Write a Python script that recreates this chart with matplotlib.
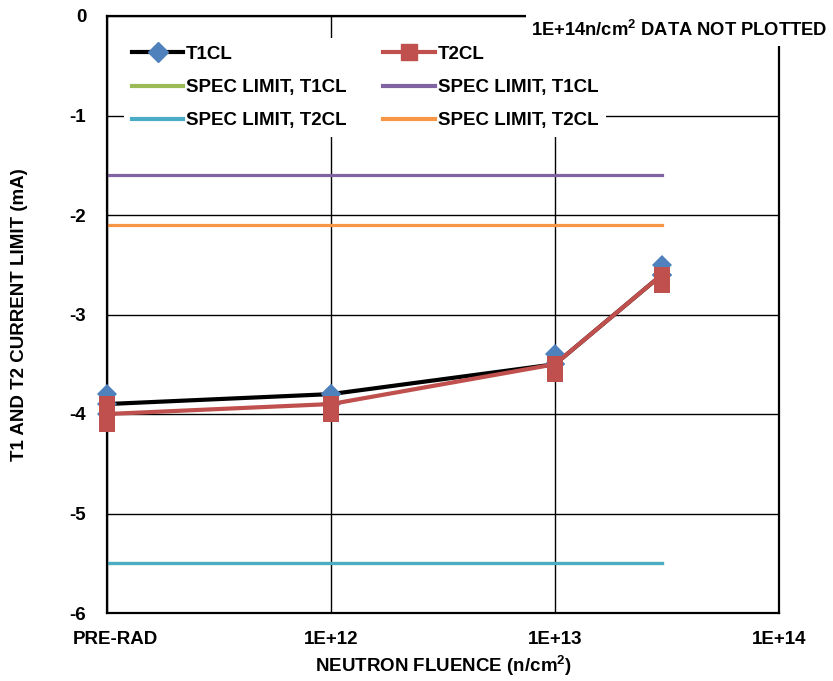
import numpy as np
import matplotlib
matplotlib.use("Agg")
import matplotlib.pyplot as plt
import matplotlib.transforms as mtransforms
from matplotlib.lines import Line2D

plt.rcParams['font.family'] = ['Liberation Sans', 'DejaVu Sans']
plt.rcParams['font.weight'] = 'bold'
plt.rcParams['axes.labelweight'] = 'bold'
plt.rcParams['mathtext.fontset'] = 'custom'
plt.rcParams['mathtext.rm'] = 'Liberation Sans:bold'
plt.rcParams['mathtext.default'] = 'rm'

# fluence, PRE-RAD drawn at 1E+11
fluence = [1e11, 1e12, 1e13, 3e13]
tick_pos = [1e11, 1e12, 1e13, 1e14]
tick_labels = ['PRE-RAD', '1E+12', '1E+13', '1E+14']

# three units per fluence step, middle one carries the line
t1_unit_a = [-3.8, -3.8, -3.4, -2.5]
t1_unit_b = [-3.9, -3.8, -3.5, -2.6]
t1_unit_c = [-4.0, -3.9, -3.5, -2.6]
t2_unit_a = [-3.9, -3.9, -3.5, -2.6]
t2_unit_b = [-4.0, -3.9, -3.5, -2.6]
t2_unit_c = [-4.1, -4.0, -3.6, -2.7]

# spec limits
spec_x = [1e11, 3e13]
spec_t1_low = -5.5
spec_t1_high = -1.6
spec_t2_low = -5.5
spec_t2_high = -2.1

c_blue = '#4F81BD'
c_red = '#C0504D'
c_green = '#9BBB59'
c_purple = '#8064A2'
c_teal = '#4BACC6'
c_orange = '#F79646'

fs = 13.5

fig = plt.figure(figsize=(8.33, 6.81), dpi=100)
ax = fig.add_axes([107/833, 1 - 613/681, (779-107)/833, (613-16)/681])

ax.plot(spec_x, [spec_t1_low]*2, color=c_green, lw=2.3, zorder=2)
ax.plot(spec_x, [spec_t1_high]*2, color=c_purple, lw=2.3, zorder=2)
ax.plot(spec_x, [spec_t2_low]*2, color=c_teal, lw=2.3, zorder=2)
ax.plot(spec_x, [spec_t2_high]*2, color=c_orange, lw=2.3, zorder=2)

ax.plot(fluence, t1_unit_b, color='black', lw=3, zorder=3, clip_on=False)
for vals in (t1_unit_a, t1_unit_b, t1_unit_c):
    ax.plot(fluence, vals, ls='none', marker='D', ms=10.5, color=c_blue,
            markeredgewidth=0, zorder=4, clip_on=False)
ax.plot(fluence, t2_unit_b, color=c_red, lw=3, zorder=5, clip_on=False)
for vals in (t2_unit_a, t2_unit_b, t2_unit_c):
    ax.plot(fluence, vals, ls='none', marker='s', ms=12, color=c_red,
            markeredgewidth=0, zorder=6, clip_on=False)

ax.set_xscale('log')
ax.set_xlim(1e11, 1e14)
ax.set_ylim(-6, 0)
ax.set_xticks(tick_pos)
ax.set_xticklabels(tick_labels)
ax.minorticks_off()
ax.set_yticks(np.arange(-6, 1, 1))
ax.set_yticklabels([str(v) for v in range(-6, 1)])
ax.tick_params(axis='both', length=0, labelsize=fs)
ax.tick_params(axis='x', pad=13)
ax.tick_params(axis='y', pad=15)
ax.grid(True, color='black', lw=1)
ax.set_axisbelow(True)
for s in ax.spines.values():
    s.set_linewidth(1.6)

# PRE-RAD sits a little right of the axis corner
first = ax.get_xticklabels()[0]
first.set_transform(first.get_transform() +
                    mtransforms.ScaledTranslation(8/100, 0, fig.dpi_scale_trans))

ax.set_xlabel('NEUTRON FLUENCE (n/cm$^2$)', fontsize=fs, labelpad=4)
ax.set_ylabel('T1 AND T2 CURRENT LIMIT (mA)', fontsize=fs, labelpad=30)

handles = [
    Line2D([], [], color='black', lw=3, marker='D', ms=10.5, mfc=c_blue, mec=c_blue),
    Line2D([], [], color=c_green, lw=3),
    Line2D([], [], color=c_teal, lw=3),
    Line2D([], [], color=c_red, lw=3, marker='s', ms=12, mfc=c_red, mec=c_red),
    Line2D([], [], color=c_purple, lw=3),
    Line2D([], [], color=c_orange, lw=3),
]
labels = ['T1CL', 'SPEC LIMIT, T1CL', 'SPEC LIMIT, T2CL',
          'T2CL', 'SPEC LIMIT, T1CL', 'SPEC LIMIT, T2CL']
leg = ax.legend(handles, labels, ncol=2, loc='upper left',
                bbox_to_anchor=(115/833, 1 - 29/681), bbox_transform=fig.transFigure,
                frameon=True, fancybox=False, edgecolor='none', framealpha=1,
                fontsize=fs, handlelength=2.75, handletextpad=0.15,
                columnspacing=1.95, labelspacing=0.85, borderpad=0.4)

fig.text(531/833, 1 - 30/681, '1E+14n/cm$^2$ DATA NOT PLOTTED', fontsize=13.2,
         ha='left', va='center',
         bbox=dict(facecolor='white', edgecolor='none', pad=4))

fig.savefig('out.png', dpi=100)
